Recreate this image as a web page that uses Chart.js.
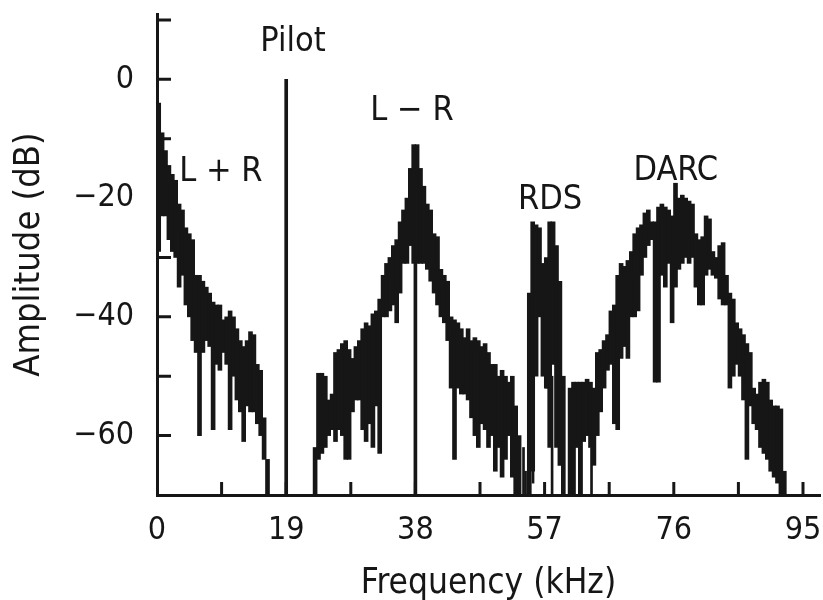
<!DOCTYPE html>
<html>
<head>
<meta charset="utf-8">
<title>FM multiplex spectrum</title>
<script src="https://cdn.jsdelivr.net/npm/chart.js@4.4.1/dist/chart.umd.min.js"></script>
<style>
  html, body { margin: 0; padding: 0; background: #fff; }
</style>
</head>
<body>
<canvas id="spectrum" width="823" height="600"></canvas>
<script>
// axis ticks (kHz / dB)
const xTicks = [0, 19, 38, 57, 76, 95];
const yTicks = [-60, -40, -20, 0];
const xMinorTicks = [9.5, 19, 28.5, 38, 47.5, 57, 66.5, 76, 85.5, 95];
const yMinorTicks = [-60, -50, -40, -30, -20, -10, 0, 10];

// spectrum, 0.5 kHz bins: top and bottom of the noisy trace (dB)
const binStep = 0.5;

const lprStart = 0;
const lprHigh = [-4, -9, -12, -14.5, -16, -17, -21, -22, -25, -26, -27, -33, -33, -34, -35, -36, -37.5,
  -38, -38, -40.5, -40, -39, -40, -42, -44, -45, -44, -42.5, -43, -48, -49, -57, -64];
const lprLow = [-29, -23, -23, -27, -29, -30, -35, -33, -38, -40, -44, -46, -60, -46, -44, -45, -59,
  -48, -49, -46, -48, -59, -50, -54, -56, -61, -55, -56, -56, -58, -60, -64, -70];

const lmrStart = 23;
const lmrHigh = [-62, -49.5, -49.5, -50, -54, -53, -46, -45.5, -44.5, -44, -45.5, -47, -45, -44, -42, -41,
  -41.5, -39.5, -39, -37, -33, -31, -30, -28, -27, -24, -22, -20, -15, -11, -11, -15, -18, -21, -22, -26,
  -26.5, -32, -33, -34, -40, -40.5, -41, -42, -43.5, -42, -44, -43.5, -44, -45, -44.5, -46, -48, -48, -50,
  -49, -50, -51, -50, -55, -60];
const lmrLow = [-70, -64, -63, -62, -60, -59, -61, -59, -60, -64, -64, -56, -54, -54, -59, -61,
  -58, -62, -55, -63, -40, -40, -39, -38, -41, -36, -31, -31, -28, -31, -31, -31, -31, -32, -34, -36,
  -38, -40, -41, -44, -52, -64, -52, -53, -53, -54, -57, -60, -62, -58, -59, -62, -60, -66, -62,
  -67, -64, -60, -67, -70, -70];

const rdsStart = 54.5;
const rdsHigh = [-36, -24, -24.5, -25, -31, -30, -24, -24, -28, -34, -50];
const rdsLow = [-70, -66, -50, -40, -50, -52, -62, -48, -62, -65, -70];

const darcStart = 60.5;
const darcHigh = [-52, -51, -51, -51, -51, -50.5, -51, -52, -46, -45.5, -44, -43, -39, -38, -33, -31,
  -31.5, -30.5, -29, -26, -25, -24.5, -22.5, -22, -24, -24, -21.5, -21, -21.5, -22, -23, -17.5,
  -20, -19.5, -20, -20.5, -21, -26, -27, -26.5, -23, -23.5, -29, -30, -28, -27.5, -33, -36,
  -37, -41, -42, -43, -44.5, -46, -52, -53, -51, -50.5, -51, -54, -55, -55, -55.5, -66];
const darcLow = [-70, -70, -62, -70, -61, -60, -62, -65, -60, -56, -52, -49, -48, -58, -59, -47,
  -45, -47, -40, -40, -39, -33, -30, -28, -27, -51, -51, -33, -35, -31, -41, -35,
  -32, -31, -30, -31, -30, -35, -38, -38, -33, -32, -33, -33.5, -37, -38, -38, -52,
  -50, -48, -50, -54, -64, -55, -58, -59, -62, -63, -64, -66, -67, -68, -70, -70];

// single lines: 19 kHz pilot, 38 kHz carrier residue, stray spikes near the floor
const pilotFreq = 19;
const pilotLevel = 0;
const carrierFreq = 38;
const carrierLevel = -31;
const spikeFreq = [53.9, 54.2, 55.3, 57.3, 58.1, 60.7, 62.4, 63.9];
const spikeLow = [-70, -70, -68, -52, -70, -70, -70, -70];
const spikeHigh = [-62, -66, -40, -38, -50, -54, -60, -62];

// band labels: centre frequency, baseline level
const labelText = ['Pilot', 'L + R', 'L \u2212 R', 'RDS', 'DARC'];
const labelFreq = [20.0, 9.4, 37.5, 57.8, 76.3];
const labelLevel = [4.7, -17.2, -6.9, -21.9, -16.9];

const ink = '#161616';
const fontFamily = '"Liberation Sans Narrow", "DejaVu Sans Condensed", "Liberation Sans", sans-serif';

function band(start, high, low) {
  return high.map((h, i) => ({ x: start + binStep / 2 + i * binStep, y: [low[i], h] }));
}

const bandOpts = { backgroundColor: ink, borderWidth: 0, barThickness: 4, grouped: false };

const tickMarks = {
  id: 'tickMarks',
  afterDatasetsDraw(chart) {
    const { ctx, chartArea, scales: { x, y } } = chart;
    ctx.save();
    ctx.strokeStyle = ink;
    ctx.lineWidth = 3;
    ctx.beginPath();
    xMinorTicks.forEach(v => {
      const px = x.getPixelForValue(v);
      ctx.moveTo(px, chartArea.bottom);
      ctx.lineTo(px, chartArea.bottom - 13);
    });
    yMinorTicks.forEach(v => {
      const py = y.getPixelForValue(v);
      ctx.moveTo(chartArea.left, py);
      ctx.lineTo(chartArea.left + 14, py);
    });
    ctx.stroke();
    ctx.restore();
  }
};

const bandLabels = {
  id: 'bandLabels',
  afterDraw(chart) {
    const { ctx, scales: { x, y } } = chart;
    ctx.save();
    ctx.fillStyle = ink;
    ctx.font = '34px ' + fontFamily;
    ctx.textAlign = 'center';
    ctx.textBaseline = 'alphabetic';
    labelText.forEach((t, i) => {
      ctx.fillText(t, x.getPixelForValue(labelFreq[i]), y.getPixelForValue(labelLevel[i]));
    });
    ctx.restore();
  }
};

new Chart(document.getElementById('spectrum'), {
  type: 'bar',
  data: {
    datasets: [
      { label: 'L+R', data: band(lprStart, lprHigh, lprLow), ...bandOpts },
      { label: 'L-R', data: band(lmrStart, lmrHigh, lmrLow), ...bandOpts },
      { label: 'RDS', data: band(rdsStart, rdsHigh, rdsLow), ...bandOpts },
      { label: 'DARC', data: band(darcStart, darcHigh, darcLow), ...bandOpts },
      { label: 'Pilot', data: [{ x: pilotFreq, y: [-70, pilotLevel] }], ...bandOpts, barThickness: 3 },
      { label: 'Carrier', data: [{ x: carrierFreq, y: [-70, carrierLevel] }], ...bandOpts, barThickness: 3 },
      { label: 'Spikes', data: spikeFreq.map((f, i) => ({ x: f, y: [spikeLow[i], spikeHigh[i]] })), ...bandOpts, barThickness: 2 }
    ]
  },
  options: {
    responsive: false,
    animation: false,
    layout: { padding: { top: 14, right: 3, left: 0, bottom: 0 } },
    plugins: { legend: { display: false }, tooltip: { enabled: false } },
    scales: {
      x: {
        type: 'linear',
        min: 0,
        max: 97.5,
        offset: false,
        grid: { display: false, offset: false },
        border: { display: true, color: ink, width: 3, z: 1 },
        afterBuildTicks: s => { s.ticks = xTicks.map(v => ({ value: v })); },
        afterFit: s => { s.height = 105; s.paddingLeft = 0; s.paddingRight = 0; },
        ticks: { color: ink, padding: 8, maxRotation: 0, autoSkip: false, font: { family: fontFamily, size: 32 } },
        title: {
          display: true, text: 'Frequency (kHz)', color: ink,
          font: { family: fontFamily, size: 35, lineHeight: 1 }, padding: { top: 0, bottom: -1 }
        }
      },
      y: {
        min: -70,
        max: 11,
        grid: { display: false },
        border: { display: true, color: ink, width: 3, z: 1 },
        afterBuildTicks: s => { s.ticks = yTicks.map(v => ({ value: v })); },
        afterFit: s => { s.width = 157; s.paddingTop = 0; s.paddingBottom = 0; },
        ticks: {
          color: ink, padding: 15, autoSkip: false, font: { family: fontFamily, size: 32 },
          callback: v => (v < 0 ? '\u2212' + Math.abs(v) : String(v))
        },
        title: {
          display: true, text: 'Amplitude (dB)', color: ink,
          font: { family: fontFamily, size: 36, lineHeight: 1 }, padding: { top: 12, bottom: 0 }
        }
      }
    }
  },
  plugins: [tickMarks, bandLabels]
});
</script>
</body>
</html>
